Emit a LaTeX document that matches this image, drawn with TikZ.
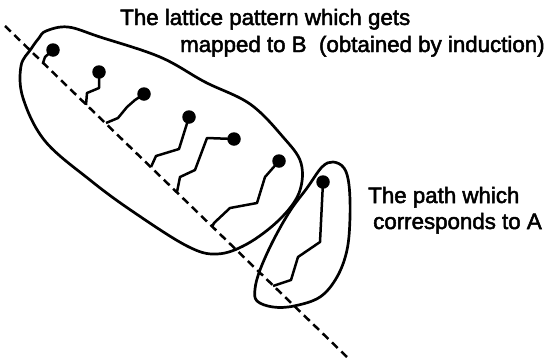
\documentclass[tikz,border=0pt]{standalone}
\usepackage{fontspec}
\setmainfont{Liberation Sans}
\newfontfamily\lblfont{Liberation Sans}[BoldFont={Liberation Sans},BoldFeatures={FakeBold=2.2}]
\begin{document}
\begin{tikzpicture}[x=1pt,y=-1pt,
  curve/.style={line width=2.7pt,line join=round,line cap=round},
  lat/.style={line width=2.5pt,line join=round},
  dot/.style={circle,fill=black,inner sep=0pt,minimum size=13.5pt},
  diag/.style={line width=2.5pt,dash pattern=on 8pt off 5pt},
  lbl/.style={anchor=base west,inner sep=0pt,font=\lblfont\bfseries\fontsize{22.3}{26}\selectfont}]
\useasboundingbox (0,0) rectangle (553,359);
% dashed diagonal
\coordinate (ds) at (5,26);
\coordinate (de) at (347,357);
\draw[diag] (ds) -- (de);
% blob B
\draw[curve] plot[smooth cycle,tension=0.6] coordinates {
 (46,31) (68,27) (100,37) (160,57) (205,82) (250,104) (283,137) (301,163)
 (299,193) (279,220) (247,244) (217,254) (187,246) (132,211) (90,180)
 (45,141) (23,98) (21,66) (31,49) (39,38)};
% loop A
\draw[curve] plot[smooth cycle,tension=0.6] coordinates {
 (333,162) (344,168) (349,185) (350,217) (347,250) (337,277) (320,297)
 (294,306) (273,307) (257,301) (255,289) (260,270) (273,241) (290,211)
 (307,188) (322,167)};
% dots
\node[dot] (d1) at (53,50) {};
\node[dot] (d2) at (99,72) {};
\node[dot] (d3) at (144,94) {};
\node[dot] (d4) at (189,117) {};
\node[dot] (d5) at (234,139) {};
\node[dot] (d6) at (279,161) {};
\node[dot] (dA) at (323,182) {};
% feet on the diagonal
\coordinate (f1) at (43,63);
\coordinate (f2) at (86,105);
\coordinate (f3) at (106,123);
\coordinate (f4) at (151,167);
\coordinate (f5) at (177,192);
\coordinate (f6) at (212,227);
\coordinate (fA) at (273,286);
% lattice paths
\draw[lat] (d1.center) -- (45,57) -- (f1);
\draw[lat] (d2.center) -- (99,88) -- (87,93) -- (f2);
\draw[lat] (d3.center) -- (135,100) -- (127,107) -- (118,118) -- (f3);
\draw[lat] (d4.center) -- (179,149) -- (156,156) -- (f4);
\draw[lat] (d5.center) -- (207,138) -- (195,170) -- (180,177) -- (f5);
\draw[lat] (d6.center) -- (265,177) -- (257,203) -- (230,208) -- (214,223) -- (f6);
\draw[lat] (dA.center) -- (320,242) -- (298,257) -- (291,280) -- (fA);
% labels
\node[lbl] (t1) at (120,25) {The lattice pattern which gets};
\node[lbl] (t2) at (180,52) {mapped to B\ \ (obtained by induction)};
\node[lbl] (t3) at (368,203) {The path which};
\node[lbl] (t4) at (373,229) {corresponds to A};
\end{tikzpicture}
\end{document}
